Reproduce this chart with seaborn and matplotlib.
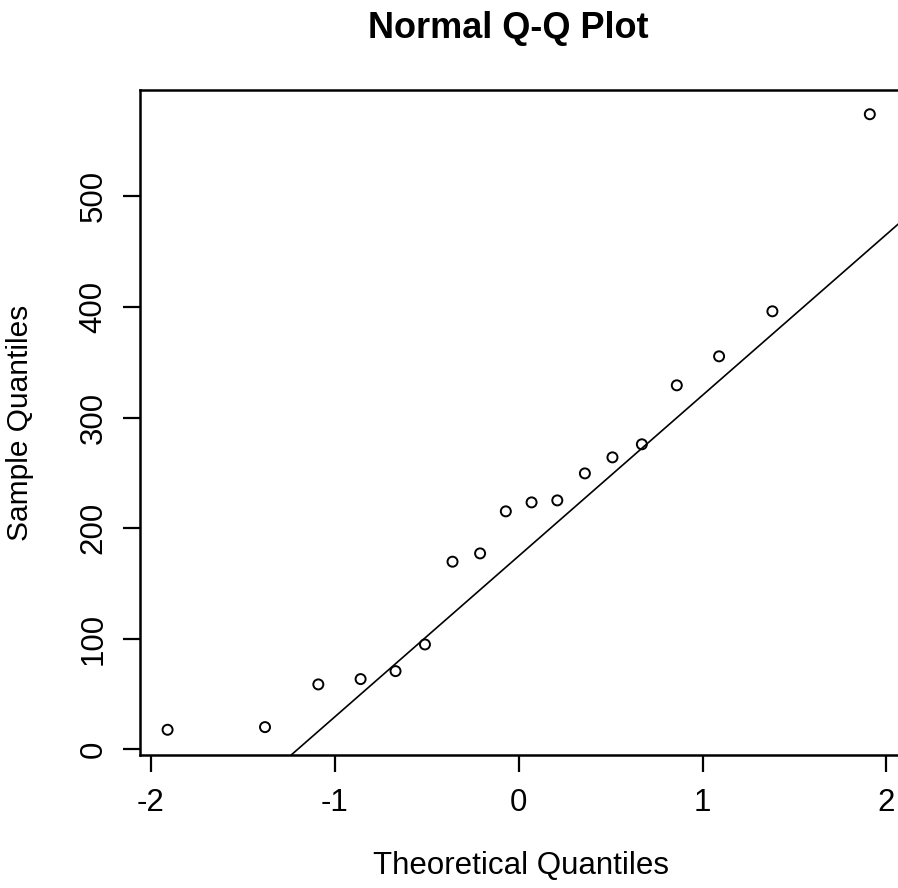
import numpy as np
import pandas as pd
import matplotlib
matplotlib.use("Agg")
import matplotlib.pyplot as plt
import seaborn as sns

# Data
theoretical = [-1.91, -1.38, -1.09, -0.86, -0.67, -0.51, -0.36, -0.21, -0.07,
               0.07, 0.21, 0.36, 0.51, 0.67, 0.86, 1.09, 1.38, 1.91]
sample = [17.8, 20.2, 58.8, 63.6, 70.8, 94.9, 169.7, 177.2, 215.2,
          223.3, 225.1, 249.5, 264.0, 275.8, 329.1, 355.3, 396.0, 574.1]
x_ticks = [-2, -1, 0, 1, 2]
y_ticks = [0, 100, 200, 300, 400, 500]
title = "Normal Q-Q Plot"
x_label = "Theoretical Quantiles"
y_label = "Sample Quantiles"

df = pd.DataFrame({"theoretical": theoretical, "sample": sample})

sns.set_theme(style="ticks")
plt.rcParams["font.family"] = ["Liberation Sans", "DejaVu Sans"]

fig = plt.figure(figsize=(8.98, 8.88), dpi=100)
W, H = 898, 888
left, right, top, bottom = 140, 902, 90, 755
ax = fig.add_axes([left / W, (H - bottom) / H, (right - left) / W, (bottom - top) / H])

sns.scatterplot(data=df, x="theoretical", y="sample", ax=ax, marker="o",
                s=52, facecolor="none", edgecolor="black", linewidth=1.4,
                legend=False, zorder=3)

# qqline through first and third quartiles
q1, q3 = np.percentile(sample, [25, 75])
z1, z3 = -0.6745, 0.6745
slope = (q3 - q1) / (z3 - z1)
intercept = q1 - slope * z1
ax.axline((0, intercept), slope=slope, color="black", lw=1.2, zorder=2)

ax.set_xlim(-2.06, 2.085)
ax.set_ylim(-5, 596)
ax.set_xticks(x_ticks)
ax.set_xticklabels([str(t) for t in x_ticks])
ax.set_yticks(y_ticks)
ax.set_yticklabels([str(t) for t in y_ticks], rotation=90, va="center")

for s in ax.spines.values():
    s.set_linewidth(1.8)
    s.set_color("black")

ax.tick_params(axis="both", length=12.5, width=1.6, color="black",
               labelsize=22.5, labelcolor="black")
ax.tick_params(axis="x", pad=11)
ax.tick_params(axis="y", pad=10)

ax.set_xlabel(x_label, fontsize=22.5, labelpad=24, color="black")
ax.set_ylabel(y_label, fontsize=21.5, labelpad=32, color="black")
fig.text(0.5655, 1 - 28 / H, title, ha="center", va="center",
         fontsize=26, fontweight="bold", color="black")

fig.savefig("out.png", dpi=100, facecolor="white")
